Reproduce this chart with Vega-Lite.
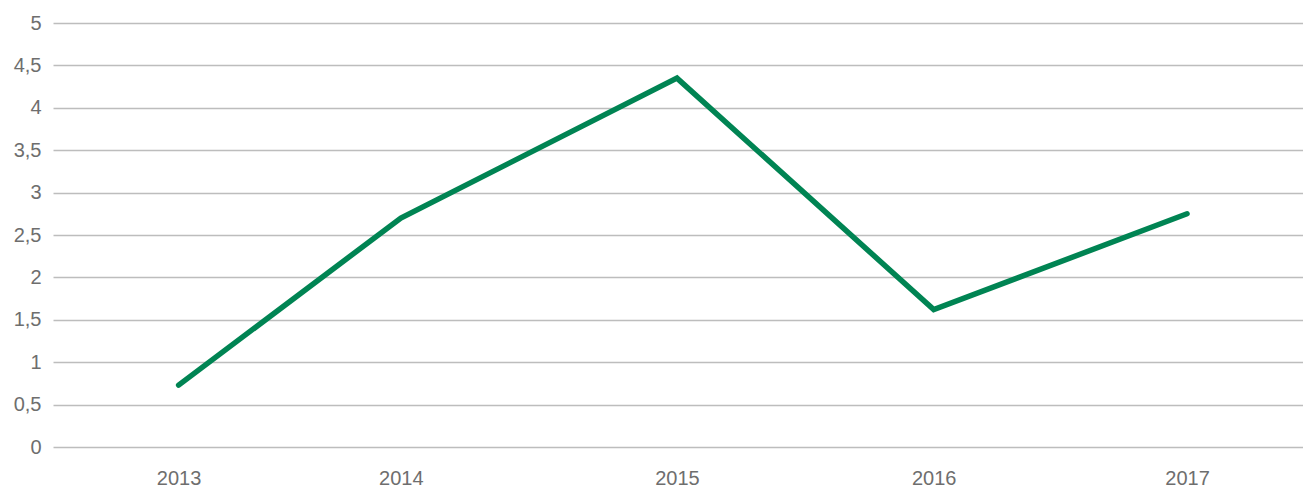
{
  "$schema": "https://vega.github.io/schema/vega-lite/v6.json",
  "width": 1250,
  "height": 424,
  "autosize": {"type": "none"},
  "padding": {"left": 53, "top": 23, "right": 0, "bottom": 41},
  "background": "white",
  "config": {"view": {"stroke": null}},
  "data": {
    "values": [
      {"year": "2013-06-01", "value": 0.73},
      {"year": "2014-04-19", "value": 2.70},
      {"year": "2015-05-24", "value": 4.35},
      {"year": "2016-05-30", "value": 1.62},
      {"year": "2017-06-01", "value": 2.75}
    ]
  },
  "mark": {"type": "line", "color": "#008453", "strokeWidth": 5.5, "strokeCap": "round", "strokeJoin": "miter"},
  "encoding": {
    "x": {
      "field": "year",
      "type": "temporal",
      "scale": {
        "type": "utc",
        "domain": [
          {"year": 2012, "month": 12, "date": 1, "utc": true},
          {"year": 2017, "month": 11, "date": 16, "utc": true}
        ]
      },
      "axis": {
        "title": null,
        "values": [
          {"year": 2013, "month": 6, "date": 1, "utc": true},
          {"year": 2014, "month": 4, "date": 19, "utc": true},
          {"year": 2015, "month": 5, "date": 24, "utc": true},
          {"year": 2016, "month": 5, "date": 30, "utc": true},
          {"year": 2017, "month": 6, "date": 1, "utc": true}
        ],
        "labelExpr": "utcFormat(datum.value, '%Y')",
        "grid": false,
        "domain": false,
        "ticks": false,
        "labelPadding": 21,
        "labelBaseline": "top",
        "labelFont": "Liberation Sans",
        "labelFontSize": 20,
        "labelColor": "#6e6e6e",
        "labelOverlap": false
      }
    },
    "y": {
      "field": "value",
      "type": "quantitative",
      "scale": {"domain": [0, 5], "nice": false},
      "axis": {
        "title": null,
        "values": [0, 0.5, 1, 1.5, 2, 2.5, 3, 3.5, 4, 4.5, 5],
        "labelExpr": "replace(format(datum.value, '~g'), '.', ',')",
        "grid": true,
        "gridColor": "#bdbdbd",
        "gridWidth": 1.5,
        "domain": false,
        "ticks": false,
        "labelPadding": 12,
        "labelFont": "Liberation Sans",
        "labelFontSize": 20,
        "labelColor": "#6e6e6e"
      }
    }
  }
}
